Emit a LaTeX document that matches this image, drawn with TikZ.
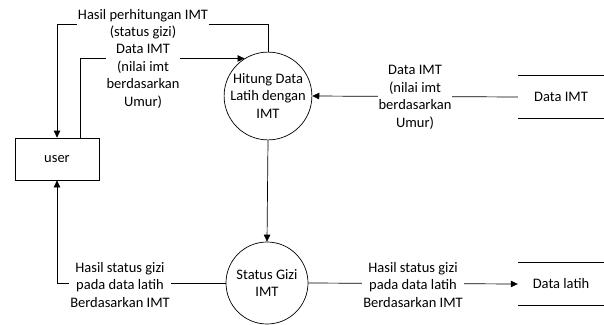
\documentclass[tikz,border=0pt]{standalone}
\usepackage{fontspec}
\setmainfont{Carlito}
\usetikzlibrary{arrows.meta}
\begin{document}
\begin{tikzpicture}[x=1pt,y=-1pt,
  every node/.style={font=\fontsize{14.5}{17.5}\selectfont},
  conn/.style={line width=0.7pt},
  arr/.style={conn,-{Triangle[length=7pt,width=6.5pt]}},
  lbl/.style={fill=white,align=center,inner sep=1pt},
  proc/.style={draw,circle,line width=0.7pt,align=center,inner sep=0pt},
  ent/.style={draw,line width=0.7pt,minimum width=84pt,minimum height=42pt,inner sep=0pt},
  store/.style={minimum width=86pt,minimum height=42pt,inner sep=0pt}]
\useasboundingbox (0,0) rectangle (604,324);
% nodes
\node[ent] (user) at (57,159) {user};
\node[proc,minimum size=80pt] (p1) at (268,96) {Hitung Data\\Latih dengan\\IMT};
\node[proc,minimum size=82pt] (p2) at (267,283) {Status Gizi\\IMT};
\node[store] (s1) at (561,97) {Data IMT};
\node[store] (s2) at (561,284) {Data latih};
\draw[conn] (s1.north west) -- (s1.north east);
\draw[conn] (s1.south west) -- (s1.south east);
\draw[conn] (s2.north west) -- (s2.north east);
\draw[conn] (s2.south west) -- (s2.south east);
% coordinates
\coordinate (c1) at (57,24);
\coordinate (u2) at (80,138);
% connectors
\draw[arr] (p1.north) |- (c1) -- (user.north);
\draw[arr] (u2) |- (p1.122);
\draw[arr] (s1.west) -- (p1.east);
\draw[arr] (p1.south) -- (p2.north);
\draw[arr] (p2.west) -| (user.south);
\draw[arr] (p2.east) -- (s2.west);
% labels
\node[lbl] (l1) at (143,24) {Hasil perhitungan IMT\\(status gizi)};
\node[lbl] (l2) at (143,76.5) {Data IMT\\(nilai imt\\berdasarkan\\Umur)};
\node[lbl] (l3) at (415,97.5) {Data IMT\\(nilai imt\\berdasarkan\\Umur)};
\node[lbl] (l4) at (120,285) {Hasil status gizi\\pada data latih\\Berdasarkan IMT};
\node[lbl] (l5) at (413,285) {Hasil status gizi\\pada data latih\\Berdasarkan IMT};
\end{tikzpicture}
\end{document}
